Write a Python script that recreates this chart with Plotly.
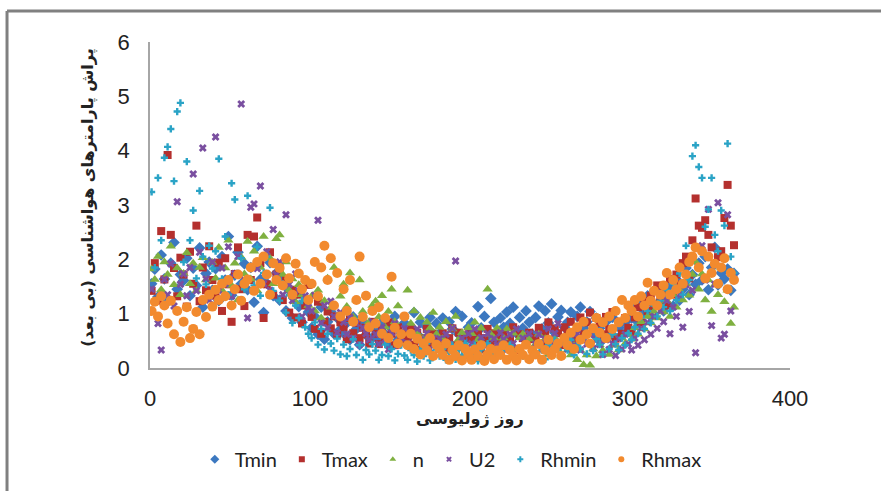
import plotly.graph_objects as go

days = list(range(1, 366, 2))

tmin = [1.55,1.82,1.31,2.08,1.64,1.22,1.93,2.31,1.45,1.72,
        1.61,2.02,1.33,1.84,1.52,2.21,1.12,1.74,1.95,1.43,
        1.83,1.24,2.05,1.62,2.42,1.34,1.71,2.13,1.55,1.92,
        1.44,1.85,1.21,2.24,1.63,1.02,1.56,1.94,1.33,1.75,
        1.25,1.64,1.05,1.43,0.92,1.35,1.13,0.84,1.22,1.03,
        0.74,0.95,0.62,1.12,0.53,0.85,1.04,0.63,0.92,0.71,
        0.64,0.83,0.52,0.94,0.72,0.43,0.85,0.61,0.74,0.55,
        0.72,0.53,0.84,0.62,0.45,0.73,0.95,0.52,0.64,0.83,
        0.55,0.73,1.02,0.62,0.84,0.44,0.75,0.93,0.63,0.82,
        0.64,0.92,0.53,0.85,0.72,1.04,0.62,0.95,0.54,0.75,
        0.83,0.62,1.13,0.74,0.95,0.55,1.28,0.84,0.63,0.92,
        0.75,1.03,0.82,1.12,0.64,0.93,0.73,1.05,0.84,0.62,
        0.93,1.14,0.72,1.05,0.83,1.18,0.65,0.94,1.06,0.75,
        0.84,1.03,0.62,0.95,1.12,0.73,0.85,1.04,0.63,0.92,
        0.73,0.52,0.85,0.64,0.93,0.55,0.75,0.62,0.84,0.72,
        0.92,1.13,0.84,1.22,1.04,1.33,0.95,1.15,1.42,1.24,
        1.05,1.34,1.52,1.14,1.63,1.25,1.45,1.84,1.35,1.72,
        1.54,1.93,1.62,2.05,1.44,1.85,2.22,1.53,1.75,1.64,
        1.82,1.43,1.74]

tmax = [1.42,1.93,1.24,2.52,1.63,3.92,2.45,1.84,1.32,2.03,
        1.72,1.13,2.14,1.55,2.62,1.23,1.85,1.43,2.24,1.62,
        1.33,1.94,1.05,2.02,1.54,0.85,1.73,2.22,1.45,1.14,
        2.45,1.62,2.42,2.77,1.93,0.92,1.54,2.13,1.35,1.72,
        1.84,1.25,1.63,1.02,1.44,0.93,1.35,0.82,1.15,1.53,
        0.94,0.72,1.22,0.63,0.85,1.04,0.73,0.95,0.62,0.84,
        0.75,0.53,0.92,0.64,0.83,0.55,0.74,0.62,0.45,0.85,
        0.63,0.44,0.72,0.55,0.84,0.63,0.42,0.75,0.53,0.64,
        0.52,0.74,0.43,0.65,0.34,0.55,0.72,0.44,0.63,0.52,
        0.45,0.64,0.33,0.55,0.73,0.42,0.65,0.54,0.35,0.62,
        0.53,0.44,0.65,0.34,0.55,0.72,0.43,0.64,0.52,0.45,
        0.63,0.42,0.54,0.75,0.33,0.62,0.55,0.44,0.65,0.53,
        0.55,0.74,0.45,0.63,0.84,0.52,0.73,0.64,0.42,0.75,
        0.64,0.85,0.53,0.74,0.93,0.62,0.84,1.02,0.73,0.92,
        0.83,0.62,0.94,0.72,1.03,0.54,0.85,0.63,0.92,0.74,
        0.65,0.93,1.12,0.84,1.24,1.05,1.33,1.14,1.52,1.25,
        1.43,1.15,1.64,1.35,1.72,1.54,1.93,2.05,1.65,2.35,
        3.12,2.62,2.58,2.72,2.45,2.22,1.92,2.04,2.15,2.76,
        3.37,2.62,2.26]

n_vals = [1.82,1.63,2.05,1.44,1.95,1.72,2.24,1.53,1.84,1.35,
          1.74,2.12,1.55,1.93,1.42,1.85,2.03,1.62,1.35,1.94,
          1.65,2.22,1.43,1.84,2.35,1.52,1.93,1.25,2.04,1.73,
          2.33,1.64,2.15,1.42,1.85,2.42,1.73,2.02,1.55,2.38,
          2.45,1.72,1.95,1.43,1.64,1.22,1.53,1.35,1.63,1.15,
          1.32,1.05,1.43,0.92,1.24,1.65,1.12,1.85,0.95,1.32,
          1.54,1.13,1.75,0.94,1.25,1.62,1.04,1.34,0.85,1.15,
          1.23,0.94,1.33,0.75,1.04,1.45,0.85,1.14,0.63,0.94,
          1.43,0.82,1.05,0.64,0.93,0.55,0.84,0.73,1.02,0.62,
          0.75,0.54,0.85,0.43,0.72,0.95,0.53,0.65,0.42,0.74,
          0.63,0.84,0.52,0.73,0.42,1.45,0.62,0.55,0.73,0.44,
          0.55,0.72,0.43,0.64,0.33,0.55,0.62,0.42,0.53,0.35,
          0.44,0.62,0.33,0.54,0.25,0.43,0.55,0.34,0.22,0.45,
          0.33,0.24,0.42,0.15,0.32,0.06,0.24,0.05,0.35,0.22,
          0.43,0.32,0.55,0.25,0.64,0.42,0.33,0.55,0.45,0.62,
          0.53,0.74,0.62,0.85,0.72,0.95,0.83,1.04,0.92,1.15,
          1.03,1.24,0.95,1.35,1.12,1.43,1.25,1.55,1.34,1.72,
          1.95,1.45,1.73,1.25,1.62,1.04,1.53,1.35,1.84,1.22,
          1.43,0.82,1.12]

u2 = [1.45,1.22,0.82,0.33,1.63,1.35,1.92,1.14,3.06,1.54,
      1.73,1.33,1.85,3.57,1.42,2.13,4.05,1.64,1.25,1.95,
      4.25,1.43,1.84,1.55,2.23,1.32,1.74,2.05,4.86,1.62,
      0.92,2.96,3.02,1.83,3.35,1.55,2.14,1.43,2.55,1.72,
      1.95,1.35,2.82,1.54,1.24,1.73,1.42,0.95,1.33,1.12,
      1.05,1.34,2.72,0.83,1.15,0.74,1.23,0.95,0.65,1.02,
      0.84,0.62,0.93,0.55,0.82,0.43,0.74,0.63,0.52,0.85,
      0.62,0.44,0.75,0.53,0.34,0.65,0.82,0.42,0.55,0.73,
      0.45,0.63,0.34,0.72,0.52,0.43,0.64,0.35,0.55,0.46,
      0.54,0.33,0.62,0.44,0.73,1.97,0.42,0.55,0.34,0.63,
      0.45,0.72,0.34,0.56,0.42,0.63,0.35,0.54,0.43,0.65,
      0.53,0.34,0.62,0.45,0.72,0.36,0.55,0.44,0.63,0.32,
      0.44,0.62,0.35,0.53,0.72,0.43,0.64,0.82,0.45,0.56,
      0.35,0.54,0.42,0.63,0.33,0.55,0.44,0.62,0.36,0.52,
      0.43,0.25,0.52,0.34,0.45,0.23,0.54,0.35,0.62,0.44,
      0.33,0.55,0.42,0.73,0.52,0.84,0.62,0.95,0.73,1.05,
      0.85,1.24,0.63,1.12,0.95,1.35,0.75,1.53,1.04,1.43,
      0.28,1.85,2.25,1.62,2.92,0.78,1.54,3.04,0.55,0.62,
      2.82,1.05,1.64]

rhmin = [3.24,1.85,3.50,2.35,3.87,4.07,4.40,3.44,4.72,4.88,
         1.95,3.80,2.35,2.90,1.65,3.26,2.05,1.54,2.25,1.83,
         2.15,3.85,1.64,2.42,1.35,3.40,3.10,1.74,2.02,1.45,
         3.17,1.84,1.52,2.23,1.33,1.75,2.05,2.95,1.42,1.63,
         1.24,1.55,1.02,1.34,0.83,1.15,0.92,1.24,0.75,0.63,
         0.55,0.84,0.43,0.72,0.34,0.63,0.45,0.32,0.54,0.25,
         0.43,0.22,0.35,0.53,0.24,0.42,0.15,0.33,0.25,0.44,
         0.32,0.15,0.24,0.43,0.22,0.35,0.14,0.26,0.42,0.23,
         0.15,0.33,0.24,0.12,0.35,0.22,0.45,0.14,0.26,0.34,
         0.22,0.35,0.15,0.28,0.42,0.16,0.33,0.24,0.45,0.18,
         0.25,0.42,0.13,0.34,0.22,0.45,0.26,0.15,0.33,0.24,
         0.35,0.16,0.42,0.25,0.13,0.34,0.22,0.44,0.15,0.32,
         0.24,0.45,0.33,0.16,0.42,0.25,0.52,0.34,0.23,0.45,
         0.33,0.52,0.24,0.42,0.35,0.55,0.26,0.44,0.32,0.53,
         0.43,0.25,0.54,0.35,0.62,0.44,0.33,0.55,0.42,0.64,
         0.52,0.75,0.63,0.94,0.72,1.05,0.83,1.15,0.95,1.24,
         1.12,1.43,1.05,1.55,1.25,1.74,1.35,2.25,1.62,3.90,
         4.10,3.70,3.50,2.60,2.92,3.50,2.45,2.15,2.90,2.62,
         4.13,2.05,1.75]

rhmax = [1.05,1.22,0.95,1.32,1.15,0.82,1.24,0.62,1.05,0.48,
         0.85,1.12,0.55,0.72,1.03,0.62,1.25,0.94,1.35,1.13,
         1.44,1.25,1.55,1.32,1.62,1.15,1.45,1.72,1.24,1.55,
         1.63,1.85,1.42,1.95,1.55,2.05,1.72,1.35,1.93,1.62,
         1.84,1.52,2.02,1.65,1.35,1.92,1.74,1.45,1.62,1.25,
         1.55,1.95,1.32,1.85,2.25,1.62,2.02,1.15,1.75,0.95,
         1.45,1.05,1.62,0.85,1.25,2.05,0.94,1.33,0.75,1.05,
         0.82,1.12,0.63,0.92,0.55,1.68,0.74,0.45,0.62,0.95,
         0.42,0.63,0.35,0.54,0.25,0.45,0.32,0.55,0.22,0.43,
         0.35,0.24,0.45,0.15,0.33,0.22,0.42,0.14,0.35,0.25,
         0.15,0.34,0.22,0.42,0.13,0.25,0.35,0.16,0.32,0.24,
         0.42,0.15,0.33,0.22,0.14,0.35,0.24,0.43,0.16,0.32,
         0.25,0.44,0.15,0.33,0.52,0.24,0.35,0.45,0.22,0.55,
         0.42,0.65,0.35,0.75,0.52,0.85,0.62,0.45,0.73,0.92,
         0.65,0.84,0.55,0.95,0.72,1.05,0.84,1.25,0.92,1.15,
         1.05,1.25,0.95,1.32,1.15,1.57,1.24,1.42,1.15,1.35,
         1.52,1.75,1.35,1.62,1.45,1.85,1.55,1.72,1.95,2.05,
         2.22,1.85,2.15,1.65,2.05,1.75,1.92,1.55,1.85,2.02,
         1.45,1.75,1.62]

series = [
    ("Tmin", tmin, "diamond", "#3C78C0", 9, 7),
    ("Tmax", tmax, "square", "#B4302E", 8, 6),
    ("n", n_vals, "triangle-up", "#7FB040", 9, 6),
    ("U2", u2, "x", "#7A4FA0", 7, 5),
    ("Rhmin", rhmin, "cross", "#2AA3C6", 6, 5),
    ("Rhmax", rhmax, "circle", "#F28A2E", 10, 6),
]

fig = go.Figure()
for name, vals, sym, col, size, lsize in series:
    assert len(vals) == len(days), (name, len(vals))
    fig.add_trace(go.Scatter(x=days, y=vals, mode="markers", name=name, showlegend=False,
                             legendgroup=name,
                             marker=dict(symbol=sym, color=col, size=size, line=dict(width=0))))
for name, vals, sym, col, size, lsize in series:
    fig.add_trace(go.Scatter(x=[None], y=[None], mode="markers", name=name, legendgroup=name,
                             marker=dict(symbol=sym, color=col, size=lsize, line=dict(width=0))))

fig.update_layout(
    width=881, height=491,
    margin=dict(l=150, r=91, t=42, b=123),
    paper_bgcolor="white", plot_bgcolor="white",
    showlegend=True,
    legend=dict(orientation="h", x=0.47, xanchor="center", y=-0.28, yanchor="middle",
                font=dict(family="Lato", size=20, color="#222"), itemsizing="trace"),
    xaxis=dict(range=[0, 400], dtick=100, showgrid=False, zeroline=False,
               showline=True, linecolor="#a6a6a6", linewidth=1.5,
               ticks="", ticklabelstandoff=10,
               tickfont=dict(family="Liberation Sans", size=22, color="#222")),
    yaxis=dict(range=[0, 6], dtick=1, showgrid=False, zeroline=False,
               showline=True, linecolor="#a6a6a6", linewidth=1.5,
               ticks="", ticklabelstandoff=14,
               tickfont=dict(family="Liberation Sans", size=22, color="#222")),
    annotations=[
        dict(text="<b>روز ژولیوسی</b>", xref="paper", yref="paper", x=0.5, y=-0.156,
             showarrow=False, xanchor="center", yanchor="middle",
             font=dict(family="DejaVu Sans", size=16, color="#222")),
        dict(text="<b>پراش پارامترهای هواشناسی (بی بعد)</b>", xref="paper", yref="paper",
             x=-0.097, y=0.525, textangle=-90, showarrow=False,
             xanchor="center", yanchor="middle",
             font=dict(family="DejaVu Sans", size=16, color="#222")),
    ],
    shapes=[
        dict(type="line", xref="paper", yref="paper", x0=-0.2234, x1=1.3, y0=1.095, y1=1.095,
             line=dict(color="#808080", width=3)),
        dict(type="line", xref="paper", yref="paper", x0=-0.2234, x1=-0.2234, y0=1.095, y1=-0.6,
             line=dict(color="#808080", width=3)),
    ],
)

fig.write_html("out.html", config={"displayModeBar": False},
               post_script="document.body.style.margin='0';")
